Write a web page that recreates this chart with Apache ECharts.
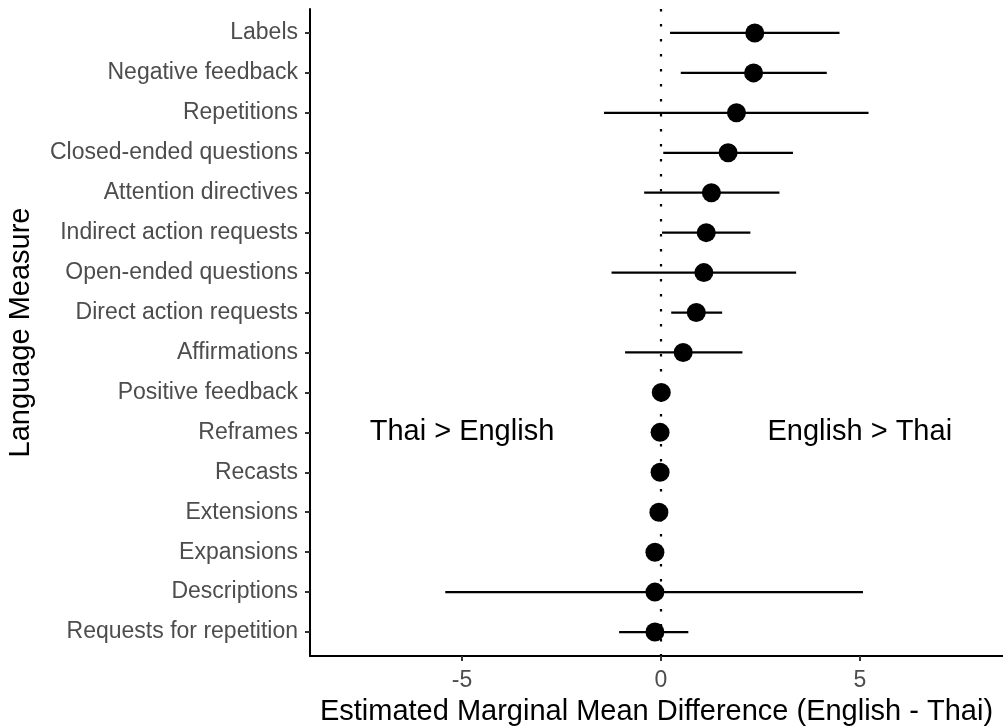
<!DOCTYPE html>
<html>
<head>
<meta charset="utf-8">
<script src="https://cdn.jsdelivr.net/npm/echarts@6/dist/echarts.min.js"></script>
<style>
  html, body { margin: 0; padding: 0; background: #fff; }
  #chart { width: 1003px; height: 727px; }
</style>
</head>
<body>
<div id="chart"></div>
<script>
// language measures, top to bottom
const categories = [
  'Labels', 'Negative feedback', 'Repetitions', 'Closed-ended questions',
  'Attention directives', 'Indirect action requests', 'Open-ended questions',
  'Direct action requests', 'Affirmations', 'Positive feedback', 'Reframes',
  'Recasts', 'Extensions', 'Expansions', 'Descriptions', 'Requests for repetition'
]
const means = [2.36, 2.33, 1.90, 1.69, 1.27, 1.14, 1.08, 0.89, 0.56, 0.01, -0.02, -0.02, -0.05, -0.15, -0.15, -0.15]
const lower = [0.23, 0.50, -1.43, 0.06, -0.42, 0.03, -1.24, 0.26, -0.90, 0.01, -0.02, -0.02, -0.05, -0.15, -5.42, -1.05]
const upper = [4.49, 4.17, 5.22, 3.32, 2.98, 2.25, 3.40, 1.54, 2.05, 0.01, -0.02, -0.02, -0.05, -0.15, 5.08, 0.69]
const xTicks = [-5, 0, 5]
const notes = ['Thai > English', 'English > Thai']
const notePos = [-5, 5]

const font = 'Liberation Sans, Arial, sans-serif'
const chart = echarts.init(document.getElementById('chart'))

// rows are placed by index on a value axis so the padding matches ggplot's 0.6 expansion
const rowIdx = categories.map((c, i) => i)
const barData = categories.map((c, i) => [lower[i], upper[i], i])
const pointData = categories.map((c, i) => [means[i], i])
const noteRow = categories.indexOf('Reframes')
const noteData = notes.map((t, i) => ({ value: [notePos[i], noteRow], name: t }))

chart.setOption({
  animation: false,
  textStyle: { fontFamily: font },
  grid: { left: 310, right: 0, top: 9, bottom: 71, outerBoundsMode: 'none' },
  xAxis: {
    type: 'value',
    min: -8.82,
    max: 8.6,
    splitLine: { show: false },
    axisLine: { show: true, onZero: false, lineStyle: { color: '#000', width: 2 } },
    axisTick: { show: true, length: 5, customValues: xTicks, lineStyle: { color: '#333', width: 2 } },
    axisLabel: { color: '#4d4d4d', fontSize: 23, margin: 13, customValues: xTicks },
    name: 'Estimated Marginal Mean Difference (English - Thai)',
    nameLocation: 'middle',
    nameGap: 41,
    nameTextStyle: { color: '#000', fontSize: 29 }
  },
  yAxis: {
    type: 'value',
    min: -0.6,
    max: categories.length - 0.4,
    inverse: true,
    axisLine: { show: true, onZero: false, lineStyle: { color: '#000', width: 2 } },
    axisTick: { show: true, length: 5, customValues: rowIdx, lineStyle: { color: '#333', width: 2 } },
    axisLabel: {
      color: '#4d4d4d', fontSize: 23, margin: 12,
      customValues: rowIdx,
      formatter: v => categories[Math.round(v)]
    },
    splitLine: { show: false },
    name: 'Language Measure',
    nameLocation: 'middle',
    nameGap: 275,
    nameTextStyle: { color: '#000', fontSize: 29 }
  },
  series: [
    {
      // confidence intervals
      type: 'custom',
      data: barData,
      renderItem: (params, api) => {
        const a = api.coord([api.value(0), api.value(2)])
        const b = api.coord([api.value(1), api.value(2)])
        return {
          type: 'line',
          shape: { x1: a[0], y1: a[1], x2: b[0], y2: b[1] },
          style: { stroke: '#000', lineWidth: 2.2 }
        }
      },
      encode: { x: [0, 1], y: 2 },
      z: 2
    },
    {
      type: 'scatter',
      data: pointData,
      symbol: 'circle',
      symbolSize: 19,
      itemStyle: { color: '#000', opacity: 1 },
      z: 3,
      markLine: {
        silent: true,
        symbol: 'none',
        label: { show: false },
        lineStyle: { color: '#000', width: 2.2, type: [2.5, 12.5], opacity: 1 },
        data: [{ xAxis: 0 }],
        z: 1
      }
    },
    {
      type: 'scatter',
      data: noteData,
      symbolSize: 0,
      itemStyle: { opacity: 1 },
      label: {
        show: true,
        position: 'inside',
        formatter: p => p.name,
        color: '#000',
        fontSize: 29
      },
      z: 4
    }
  ]
})
</script>
</body>
</html>
